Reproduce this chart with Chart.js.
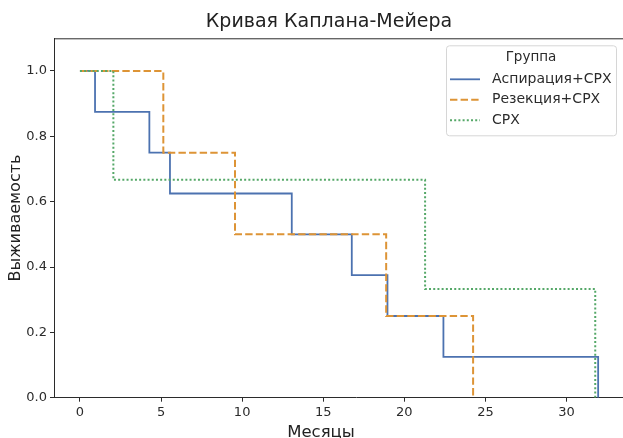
<!DOCTYPE html>
<html>
<head>
<meta charset="utf-8">
<script src="https://cdn.jsdelivr.net/npm/chart.js@4"></script>
<style>
  html, body { margin: 0; padding: 0; background: #fff; overflow: hidden; }
  #wrap { width: 658px; height: 446px; }
</style>
</head>
<body>
<div id="wrap"><canvas id="kmChart" width="658" height="446"></canvas></div>
<script>
// Kaplan-Meier steps (time in months, survival)
var aspTimes = [0, 0.93, 4.28, 5.55, 13.06, 16.76, 18.96, 22.41, 31.95];
var aspSurv  = [1.0, 0.875, 0.75, 0.625, 0.5, 0.375, 0.25, 0.125, 0.0];
var resTimes = [0, 5.14, 9.56, 18.88, 24.24];
var resSurv  = [1.0, 0.75, 0.5, 0.25, 0.0];
var crxTimes = [0, 2.06, 21.28, 31.77];
var crxSurv  = [1.0, 0.667, 0.333, 0.0];

var groupNames = ['Аспирация+СРХ', 'Резекция+СРХ', 'СРХ'];
var xTickValues = [0, 5, 10, 15, 20, 25, 30];
var yTickValues = [0.0, 0.2, 0.4, 0.6, 0.8, 1.0];

function toPoints(times, surv) {
    return times.map(function (t, i) { return { x: t, y: surv[i] }; });
}

var FONT = "'DejaVu Sans', sans-serif";
var INK = '#2b2b2b';

// matplotlib-style legend drawn inside the axes (top right)
var boxLegend = {
    id: 'boxLegend',
    afterDraw: function (chart) {
        var ctx = chart.ctx, area = chart.chartArea;
        var w = 170, h = 90;
        var x = 446, y = area.top + 7;
        ctx.save();
        ctx.fillStyle = 'rgba(255,255,255,0.85)';
        ctx.strokeStyle = '#d6d6d6';
        ctx.lineWidth = 1;
        ctx.beginPath();
        ctx.roundRect(x + 0.5, y + 0.5, w, h, 3);
        ctx.fill();
        ctx.stroke();
        ctx.fillStyle = INK;
        ctx.font = '13.5px ' + FONT;
        ctx.textAlign = 'center';
        ctx.textBaseline = 'middle';
        ctx.fillText('Группа', x + w / 2, y + 12);
        ctx.textAlign = 'left';
        ctx.font = '14px ' + FONT;
        chart.data.datasets.forEach(function (ds, i) {
            var ry = y + 34 + i * 20.5;
            ctx.strokeStyle = ds.borderColor;
            ctx.lineWidth = ds.borderWidth;
            ctx.setLineDash(ds.borderDash || []);
            ctx.beginPath();
            ctx.moveTo(x + 4, ry);
            ctx.lineTo(x + 34, ry);
            ctx.stroke();
            ctx.setLineDash([]);
            ctx.fillStyle = INK;
            ctx.fillText(ds.label, x + 46, ry);
        });
        ctx.restore();
    }
};

// top spine and the x-axis caption
var frameBits = {
    id: 'frameBits',
    afterDraw: function (chart) {
        var ctx = chart.ctx, area = chart.chartArea;
        ctx.save();
        ctx.strokeStyle = INK;
        ctx.lineWidth = 1;
        ctx.beginPath();
        ctx.moveTo(area.left, area.top + 0.5);
        ctx.lineTo(area.right, area.top + 0.5);
        ctx.stroke();
        ctx.fillStyle = '#222';
        ctx.font = '16.5px ' + FONT;
        ctx.textAlign = 'center';
        ctx.textBaseline = 'middle';
        ctx.fillText('Месяцы', 321, 433);
        ctx.restore();
    }
};

var ctx = document.getElementById('kmChart').getContext('2d');
var kmChart = new Chart(ctx, {
    type: 'line',
    data: {
        datasets: [{
            label: groupNames[0],
            data: toPoints(aspTimes, aspSurv),
            borderColor: '#4c72b0',
            borderWidth: 1.8,
            stepped: 'before',
            order: 3
        }, {
            label: groupNames[1],
            data: toPoints(resTimes, resSurv),
            borderColor: '#dd9436',
            borderWidth: 2,
            borderDash: [7.4, 3.2],
            stepped: 'before',
            order: 2
        }, {
            label: groupNames[2],
            data: toPoints(crxTimes, crxSurv),
            borderColor: '#55a868',
            borderWidth: 2,
            borderDash: [2, 2.2],
            stepped: 'before',
            order: 1
        }]
    },
    options: {
        responsive: false,
        animation: false,
        events: [],
        elements: {
            point: { radius: 0 },
            line: { tension: 0, fill: false, borderCapStyle: 'butt' }
        },
        layout: { padding: 0 },
        plugins: {
            legend: { display: false },
            tooltip: { enabled: false },
            title: {
                display: true,
                text: 'Кривая Каплана-Мейера',
                color: '#222',
                font: { family: FONT, size: 19, weight: 'normal' },
                padding: { top: 11, bottom: 4.5 }
            }
        },
        scales: {
            x: {
                type: 'linear',
                min: -1.6,
                max: 35.64,
                afterFit: function (scale) { scale.height = 48.3; },
                afterBuildTicks: function (scale) {
                    scale.ticks = xTickValues.map(function (v) { return { value: v }; });
                },
                ticks: {
                    color: INK,
                    font: { family: FONT, size: 13 },
                    padding: 3,
                    maxRotation: 0,
                    callback: function (v) { return String(v); }
                },
                grid: { drawOnChartArea: false, tickLength: 4, tickColor: INK, tickWidth: 1 },
                border: { color: INK, width: 1 }
            },
            y: {
                type: 'linear',
                min: 0,
                max: 1.1,
                afterFit: function (scale) { scale.width = 54; },
                afterBuildTicks: function (scale) {
                    scale.ticks = yTickValues.map(function (v) { return { value: v }; });
                },
                ticks: {
                    color: INK,
                    font: { family: FONT, size: 13 },
                    padding: 3,
                    callback: function (v) { return Number(v).toFixed(1); }
                },
                grid: { drawOnChartArea: false, tickLength: 4, tickColor: INK, tickWidth: 1 },
                border: { color: INK, width: 1 },
                title: {
                    display: true,
                    text: 'Выживаемость',
                    color: '#222',
                    font: { family: FONT, size: 16 },
                    padding: { top: 6, bottom: 0 }
                }
            }
        }
    },
    plugins: [boxLegend, frameBits]
});
</script>
</body>
</html>
